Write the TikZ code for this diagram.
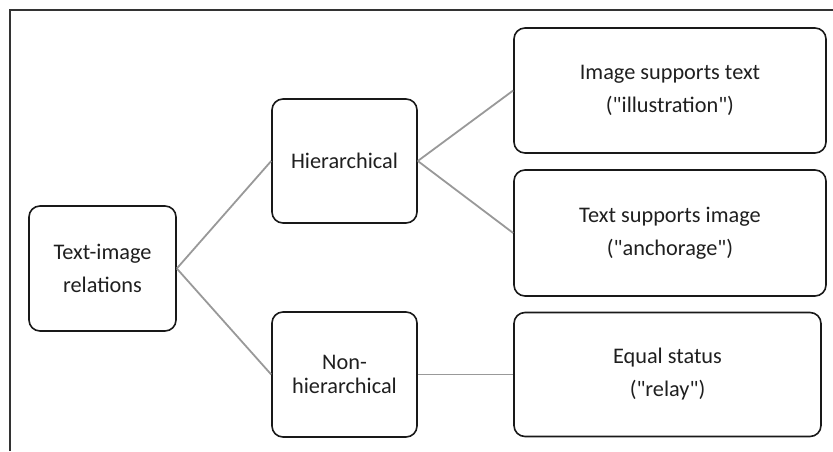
\documentclass[tikz,border=0pt]{standalone}
\usepackage{fontspec}
\setmainfont{Carlito}
\usetikzlibrary{calc}
\tikzset{
	relbox/.style={draw=black!90, line width=1.6pt, rounded corners=11pt, align=center, inner sep=0pt, font=\fontsize{22.3}{33}\selectfont, text=black!88},
	relline/.style={draw=black!40, line width=1.8pt}
}

\begin{document}
\begin{tikzpicture}[x=1pt, y=-1pt]
		%%%%% START %%%%%
		\useasboundingbox (0, 0) rectangle (833, 451);
		\draw[line width=1.6pt, black!80] (10, 451) -- (10, 10) -- (833, 10);
		
		\node[relbox, minimum width=147pt, minimum height=125pt] (root) at (102.5, 268.5) {Text-image\\relations};
		
		\node[relbox, minimum width=145pt, minimum height=124pt] (hier) at (344.5, 161) {Hierarchical};
		\node[relbox, minimum width=145pt, minimum height=125pt, font=\fontsize{22.3}{23.5}\selectfont] (nonhier) at (344.5, 374.5) {Non-\\hierarchical};
		
		\node[relbox, minimum width=312pt, minimum height=125pt] (illus) at (670, 90.5) {Image supports text\\(\textquotedbl illustration\textquotedbl)};
		\node[relbox, minimum width=312pt, minimum height=126pt] (anchor) at (670, 233) {Text supports image\\(\textquotedbl anchorage\textquotedbl)};
		\node[relbox, minimum width=307pt, minimum height=124pt] (relay) at (667.5, 374.5) {Equal status\\(\textquotedbl relay\textquotedbl)};
		
		\draw[relline] (root.east) -- (hier.west);
		\draw[relline] (root.east) -- (nonhier.west);
		\draw[relline] (hier.east) -- (illus.west);
		\draw[relline] (hier.east) -- (anchor.west);
		\draw[relline] (nonhier.east) -- (relay.west);
		%%%%% END %%%%%
	\end{tikzpicture}
\end{document}
